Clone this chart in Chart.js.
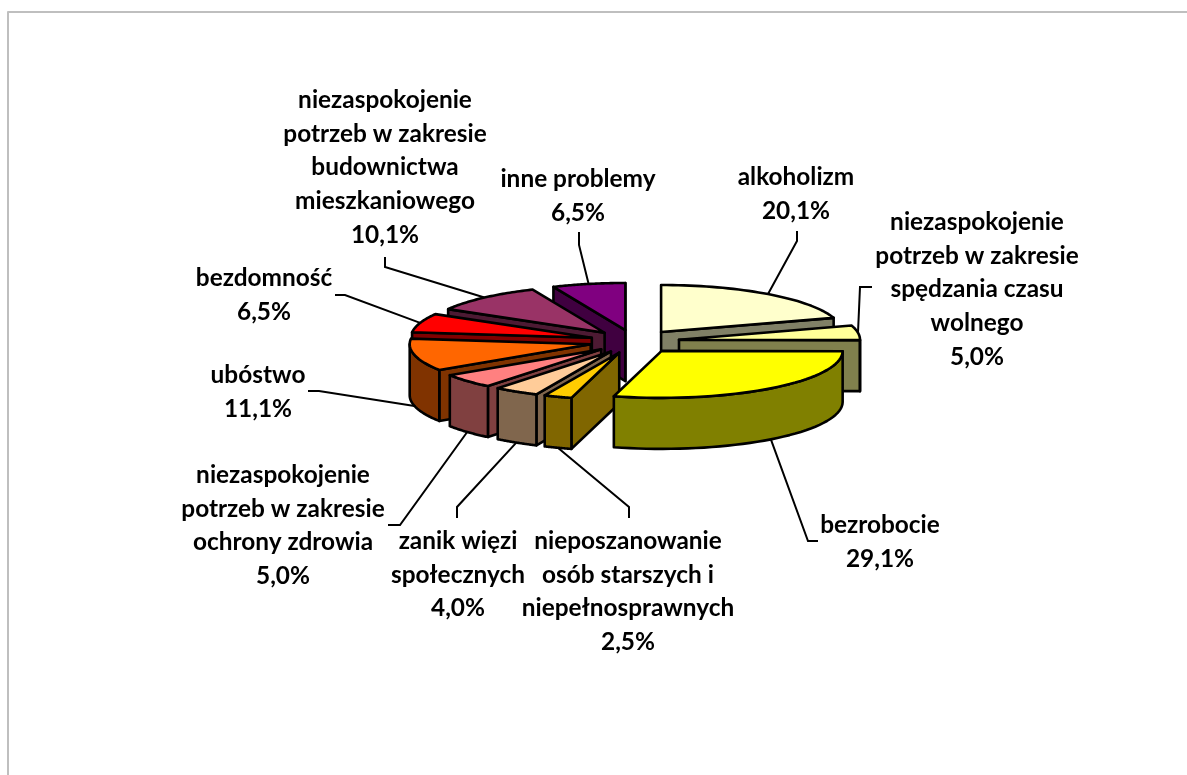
<!DOCTYPE html>
<html lang="pl">
<head>
  <meta charset="UTF-8" />
  <title>Problemy społeczne</title>
  <style>
    html, body { margin: 0; padding: 0; background: #fff; overflow: hidden; }
    #wrap { position: relative; width: 1187px; height: 775px; }
  </style>
</head>
<body>
<div id="wrap"><canvas id="chart" width="1187" height="775"></canvas></div>

<script src="https://cdn.jsdelivr.net/npm/chart.js"></script>
<script>
// dane
const categories = [
  "alkoholizm",
  "niezaspokojenie\npotrzeb w zakresie\nspędzania czasu\nwolnego",
  "bezrobocie",
  "nieposzanowanie\nosób starszych i\nniepełnosprawnych",
  "zanik więzi\nspołecznych",
  "niezaspokojenie\npotrzeb w zakresie\nochrony zdrowia",
  "ubóstwo",
  "bezdomność",
  "niezaspokojenie\npotrzeb w zakresie\nbudownictwa\nmieszkaniowego",
  "inne problemy"
];
const percents = [20.1, 5.0, 29.1, 2.5, 4.0, 5.0, 11.1, 6.5, 10.1, 6.5];
const colors = ["#FFFFCC", "#FFFF99", "#FFFF00", "#FFCC00", "#FFCC99", "#FF8080", "#FF6600", "#FF0000", "#993366", "#800080"];

// srodek kazdej etykiety: x, y pierwszej linii
const labelPos = [[796, 177], [977, 222], [880, 525], [628, 541], [458, 541], [283, 475], [258, 375], [264, 278], [385, 100], [578, 179]];
// zalamania linii odniesienia
const leaderPts = [
  [[797, 241], [797, 231]],
  [[860, 287], [872, 287]],
  [[808, 541], [818, 541]],
  [[629, 507], [629, 518]],
  [[457, 507], [457, 518]],
  [[400, 525], [388, 525]],
  [[319, 391], [308, 391]],
  [[345, 295], [335, 295]],
  [[385, 267], [385, 257]],
  [[579, 245], [579, 232]]
];
const drawOrder = [9, 8, 7, 6, 5, 4, 3, 0, 1, 2];

const TILT = 0.26;
const DEPTH = 51;
const LINE_H = 33.7;

function darken(hex) {
  const n = parseInt(hex.slice(1), 16);
  const c = [(n >> 16) & 255, (n >> 8) & 255, n & 255].map(v => Math.round(v / 2));
  return `rgb(${c[0]},${c[1]},${c[2]})`;
}

// geometria wycinka z elementu luku Chart.js, splaszczona do elipsy
function sliceGeom(arc) {
  const mid = (arc.startAngle + arc.endAngle) / 2;
  const off = arc.options.offset;
  const ax = arc.x + Math.cos(mid) * off;
  const ay = arc.y + Math.sin(mid) * off * TILT;
  const rim = a => [ax + Math.cos(a) * arc.outerRadius, ay + Math.sin(a) * arc.outerRadius * TILT];
  return { mid, ax, ay, rim };
}

function poly(ctx, pts, fill) {
  ctx.beginPath();
  pts.forEach((p, i) => i ? ctx.lineTo(p[0], p[1]) : ctx.moveTo(p[0], p[1]));
  ctx.closePath();
  ctx.fillStyle = fill;
  ctx.fill();
  ctx.stroke();
}

const pie3d = {
  id: 'pie3d',
  beforeDatasetDraw(chart) {
    const ctx = chart.ctx;
    const arcs = chart.getDatasetMeta(0).data;
    ctx.save();
    ctx.strokeStyle = '#000';
    ctx.lineWidth = 2.6;
    ctx.lineJoin = 'round';

    // ramka wykresu, tylko gora i lewa
    ctx.save();
    ctx.strokeStyle = '#BFBFBF';
    ctx.lineWidth = 2;
    ctx.beginPath();
    ctx.moveTo(8, 775);
    ctx.lineTo(8, 12);
    ctx.lineTo(1187, 12);
    ctx.stroke();
    ctx.restore();

    drawOrder.forEach(i => {
      const arc = arcs[i];
      const g = sliceGeom(arc);
      const a0 = arc.startAngle, a1 = arc.endAngle;
      const side = darken(colors[i]);
      const wall = a => {
        const r = g.rim(a);
        poly(ctx, [[g.ax, g.ay], r, [r[0], r[1] + DEPTH], [g.ax, g.ay + DEPTH]], side);
      };
      if (Math.cos(a0) < 0) wall(a0);
      if (Math.cos(a1) > 0) wall(a1);

      // sciana zewnetrzna, tylko przednia czesc luku
      const from = Math.max(a0, 0), to = Math.min(a1, Math.PI);
      if (to > from) {
        const top = [], bottom = [];
        for (let s = 0; s <= 40; s++) {
          const r = g.rim(from + (to - from) * s / 40);
          top.push(r);
          bottom.unshift([r[0], r[1] + DEPTH]);
        }
        poly(ctx, top.concat(bottom), side);
      }

      const face = [[g.ax, g.ay]];
      for (let s = 0; s <= 40; s++) face.push(g.rim(a0 + (a1 - a0) * s / 40));
      poly(ctx, face, colors[i]);
    });
    ctx.restore();
    return false;
  },
  afterDatasetsDraw(chart) {
    const ctx = chart.ctx;
    const arcs = chart.getDatasetMeta(0).data;
    ctx.save();
    ctx.strokeStyle = '#000';
    ctx.lineWidth = 2;
    ctx.fillStyle = '#000';
    ctx.font = 'bold 24.4px Lato';
    ctx.textAlign = 'center';
    ctx.textBaseline = 'middle';
    arcs.forEach((arc, i) => {
      const g = sliceGeom(arc);
      const r = g.rim(g.mid);
      const front = Math.sin(g.mid) > 0;
      ctx.beginPath();
      ctx.moveTo(r[0], r[1] + (front ? DEPTH : 0));
      leaderPts[i].forEach(p => ctx.lineTo(p[0], p[1]));
      ctx.stroke();

      const lines = chart.data.labels[i].split('\n');
      lines.push(percents[i].toFixed(1).replace('.', ',') + '%');
      lines.forEach((t, n) => ctx.fillText(t, labelPos[i][0], labelPos[i][1] + n * LINE_H));
    });
    ctx.restore();
  }
};

new Chart(document.getElementById('chart'), {
  type: 'pie',
  data: {
    labels: categories,
    datasets: [{
      data: percents,
      backgroundColor: colors,
      borderWidth: 0,
      offset: 45,
      radius: 181
    }]
  },
  options: {
    responsive: false,
    animation: false,
    layout: { padding: { left: 82, bottom: 92 } },
    plugins: { legend: { display: false }, tooltip: { enabled: false } }
  },
  plugins: [pie3d]
});
</script>
</body>
</html>
